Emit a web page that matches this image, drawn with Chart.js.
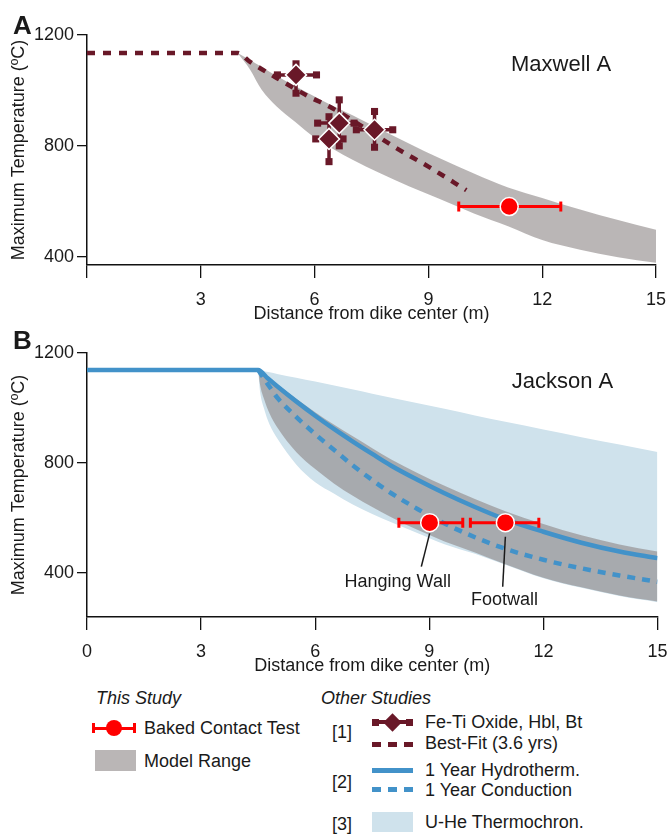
<!DOCTYPE html>
<html>
<head>
<meta charset="utf-8">
<script src="https://cdn.jsdelivr.net/npm/chart.js@4.4.0/dist/chart.umd.min.js"></script>
<style>
  body { margin: 0; background: #fff; font-family: "Liberation Sans", Arial, Helvetica, sans-serif; color: #1a1a1a; }
  #page { position: relative; width: 668px; height: 835px; overflow: hidden; }
  .abs { position: absolute; }
  .panel { position: absolute; font-size: 26px; font-weight: bold; line-height: 26px; }
  .lg { position: absolute; font-size: 18px; line-height: 20px; white-space: nowrap; }
  .it { font-style: italic; }
</style>
</head>
<body>
<div id="page">
  <canvas id="chartA" class="abs" style="left:0;top:0" width="668" height="325"></canvas>
  <canvas id="chartB" class="abs" style="left:0;top:330px" width="668" height="347"></canvas>
  <div class="panel" style="left:13px;top:12px">A</div>
  <div class="panel" style="left:13px;top:327px">B</div>

  <!-- legend -->
  <div class="lg it" style="left:96px;top:688px">This Study</div>
  <div class="abs" style="left:93px;top:726.5px;width:42px;height:3px;background:#ff0000"></div>
  <div class="abs" style="left:92px;top:723px;width:3px;height:10px;background:#ff0000"></div>
  <div class="abs" style="left:133px;top:723px;width:3px;height:10px;background:#ff0000"></div>
  <div class="abs" style="left:106px;top:720px;width:16px;height:16px;border-radius:50%;background:#ff0000"></div>
  <div class="lg" style="left:144px;top:718px">Baked Contact Test</div>
  <div class="abs" style="left:95px;top:750px;width:41px;height:21px;background:#bab6b6"></div>
  <div class="lg" style="left:144px;top:751px">Model Range</div>

  <div class="lg it" style="left:321px;top:688px">Other Studies</div>
  <div class="lg" style="left:332px;top:722px">[1]</div>
  <div class="lg" style="left:332px;top:772px">[2]</div>
  <div class="lg" style="left:332px;top:814px">[3]</div>

  <div class="abs" style="left:372px;top:720px;width:41px;height:4px;background:#691828"></div>
  <div class="abs" style="left:372px;top:718.5px;width:7px;height:7px;background:#691828"></div>
  <div class="abs" style="left:406px;top:718.5px;width:7px;height:7px;background:#691828"></div>
  <div class="abs" style="left:386px;top:715.5px;width:13px;height:13px;background:#691828;transform:rotate(45deg)"></div>
  <div class="lg" style="left:425px;top:712px">Fe-Ti Oxide, Hbl, Bt</div>
  <div class="abs" style="left:372px;top:742px;width:41px;height:4.5px;background:repeating-linear-gradient(90deg,#691828 0 9px,transparent 9px 16px)"></div>
  <div class="lg" style="left:425px;top:733px">Best-Fit (3.6 yrs)</div>

  <div class="abs" style="left:372px;top:767.5px;width:41px;height:5px;background:#4292c9"></div>
  <div class="lg" style="left:425px;top:760px">1 Year Hydrotherm.</div>
  <div class="abs" style="left:372px;top:787px;width:41px;height:4.5px;background:repeating-linear-gradient(90deg,#4292c9 0 9px,transparent 9px 16px)"></div>
  <div class="lg" style="left:425px;top:780px">1 Year Conduction</div>

  <div class="abs" style="left:372px;top:812px;width:41px;height:20px;background:#cfe2ec"></div>
  <div class="lg" style="left:425px;top:812px">U-He Thermochron.</div>
</div>

<script>
// ---- axes ----
const xTicks = [0, 3, 6, 9, 12, 15];
const yTicks = [400, 800, 1200];

// ---- A: Maxwell A ----
const maxBandX = [3.97, 4.3, 4.6, 5.0, 5.5, 6.0, 6.5, 7.0, 7.7, 8.5, 9.3, 10.2, 11.1, 12.0, 13.0, 14.0, 15.0];
const maxBandHigh = [1135, 1110, 1085, 1052, 1015, 978, 943, 910, 862, 808, 755, 700, 650, 612, 570, 532, 497];
const maxBandLow = [1135, 1075, 1003, 942, 885, 830, 788, 750, 703, 653, 608, 556, 510, 460, 425, 398, 378];
const bestFitX = [0, 3.97, 4.3, 5.0, 5.86, 6.4, 7.2, 8.14, 9.0, 10.0];
const bestFitT = [1135, 1135, 1103, 1045, 977, 941, 875, 793, 725, 640];
const oxideX = [5.51, 6.65, 6.38, 7.58];
const oxideT = [1056, 882, 825, 858];
const oxideXMin = [5.02, 6.08, 6.03, 7.10];
const oxideXMax = [6.05, 7.04, 6.75, 8.06];
const oxideTMin = [990, 800, 743, 795];
const oxideTMax = [1096, 966, 905, 924];
const maxBakedX = [11.13];
const maxBakedT = [581];
const maxBakedXMin = [9.80];
const maxBakedXMax = [12.49];

// ---- B: Jackson A ----
const jacBandX = [4.5, 4.55, 4.65, 4.8, 5.0, 5.5, 6.0, 6.5, 7.0, 7.5, 8.0, 8.7, 9.4, 10.2, 11.0, 12.0, 13.0, 14.0, 15.0];
const modelHigh = [1138, 1133, 1122, 1106, 1086, 1034, 985, 939, 896, 854, 813, 763, 717, 669, 625, 578, 537, 504, 478];
const modelLow = [1138, 1085, 1035, 980, 930, 840, 778, 725, 680, 640, 603, 556, 515, 475, 432, 383, 348, 318, 296];
const uheHigh = [1138, 1137, 1134, 1130, 1124, 1110, 1096, 1082, 1067, 1052, 1037, 1017, 997, 973, 950, 922, 894, 867, 840];
const uheLow = [1138, 1060, 1000, 940, 890, 795, 730, 688, 648, 615, 585, 545, 505, 470, 430, 381, 346, 316, 294];
const conductT = [1138, 1128, 1108, 1077, 1038, 968, 905, 847, 790, 738, 690, 632, 580, 530, 488, 448, 417, 391, 368];
const hydroX = [0, 4.5, 4.75, 5.0, 5.5, 6.0, 6.5, 7.0, 7.5, 8.0, 8.7, 9.4, 10.2, 11.0, 12.0, 13.0, 14.0, 15.0];
const hydroT = [1138, 1138, 1108, 1079, 1024, 972, 923, 877, 833, 790, 738, 690, 640, 595, 550, 510, 478, 454];
const jacBakedLabels = ['Hanging Wall', 'Footwall'];
const jacBakedX = [9.01, 11.0];
const jacBakedT = [583, 583];
const jacBakedXMin = [8.20, 10.08];
const jacBakedXMax = [9.88, 11.88];

// ---- colours ----
const MAROON = '#691828';
const BLUE = '#4292c9';
const RED = '#ff0000';
const GRAY = 'rgba(140,133,133,0.6)';
const LIGHTBLUE = '#cfe2ec';

const pts = (xs, ys) => xs.map((x, i) => ({ x: x, y: ys[i] }));

function hBars(x0, x1, ys) {
  const out = [];
  ys.forEach((y, i) => { out.push({ x: x0[i], y: y }, { x: x1[i], y: y }, { x: x1[i], y: null }); });
  return out;
}
function vBars(xs, y0, y1) {
  const out = [];
  xs.forEach((x, i) => { out.push({ x: x, y: y0[i] }, { x: x, y: y1[i] }, { x: x, y: null }); });
  return out;
}

function curve(data, color, width, dash) {
  return { data: data, borderColor: color, borderWidth: width, borderDash: dash || [],
    pointRadius: 0, cubicInterpolationMode: 'monotone', fill: false };
}
function band(data, color, target) {
  return { data: data, borderWidth: 0, borderColor: 'rgba(0,0,0,0)', backgroundColor: color,
    pointRadius: 0, cubicInterpolationMode: 'monotone', fill: target === undefined ? false : { target: target } };
}
function errBars(data, color, width, capStyle, capRadius, rot) {
  return { data: data, borderColor: color, borderWidth: width, spanGaps: false, tension: 0,
    pointStyle: capStyle, pointRadius: capRadius, pointRotation: rot || 0,
    pointBackgroundColor: color, pointBorderColor: color, pointBorderWidth: capStyle === 'line' ? 3 : 0 };
}
function markers(data, color, style, radius) {
  return { data: data, showLine: false, pointStyle: style, pointRadius: radius,
    pointBackgroundColor: color, pointBorderColor: '#fff', pointBorderWidth: 1.5 };
}

// titles and annotations drawn in data coordinates
const panelText = {
  id: 'panelText',
  afterDatasetsDraw(chart, args, opts) {
    const { ctx } = chart;
    const sx = chart.scales.x, sy = chart.scales.y;
    ctx.save();
    ctx.fillStyle = '#1a1a1a';
    ctx.textAlign = 'center';
    ctx.textBaseline = 'middle';
    ctx.font = '22px "Liberation Sans", Arial, sans-serif';
    ctx.fillText(opts.title, sx.getPixelForValue(12.5), sy.getPixelForValue(1093));
    ctx.font = '18px "Liberation Sans", Arial, sans-serif';
    ctx.strokeStyle = '#1a1a1a';
    ctx.lineWidth = 1.5;
    (opts.notes || []).forEach(n => {
      ctx.beginPath();
      ctx.moveTo(sx.getPixelForValue(n.line[0]), sy.getPixelForValue(n.line[1]));
      ctx.lineTo(sx.getPixelForValue(n.line[2]), sy.getPixelForValue(n.line[3]));
      ctx.stroke();
      ctx.fillText(n.text, sx.getPixelForValue(n.at[0]), sy.getPixelForValue(n.at[1]));
    });
    ctx.restore();
  }
};

function scalesFor(yMin, showZero) {
  const axisLine = { display: true, color: '#111', width: 1.5 };
  return {
    x: {
      type: 'linear', min: 0, max: 15,
      afterBuildTicks: s => { s.ticks = xTicks.map(v => ({ value: v })); },
      afterFit: s => { s.height = 60; s.paddingRight = 10; s.paddingLeft = 0; },
      grid: { drawOnChartArea: false, drawTicks: true, tickLength: 13, color: '#111', lineWidth: 1.3 },
      border: axisLine,
      ticks: { padding: 11, maxRotation: 0, autoSkip: false,
        callback: v => (v === 0 && !showZero) ? '' : String(v) },
      title: { display: true, text: 'Distance from dike center (m)', padding: { top: 0, bottom: 0 } }
    },
    y: {
      type: 'linear', min: yMin, max: 1200,
      afterBuildTicks: s => { s.ticks = yTicks.map(v => ({ value: v })); },
      afterFit: s => { s.width = 87; },
      grid: { drawOnChartArea: false, drawTicks: true, tickLength: 10, color: '#111', lineWidth: 1.3 },
      border: axisLine,
      ticks: { padding: 3, callback: v => String(v) },
      title: { display: true, text: 'Maximum Temperature (ºC)', padding: { top: 8, bottom: 0 } }
    }
  };
}

Chart.defaults.font.family = '"Liberation Sans", Arial, Helvetica, sans-serif';
Chart.defaults.font.size = 18;
Chart.defaults.color = '#1a1a1a';

new Chart(document.getElementById('chartA'), {
  type: 'line',
  data: {
    datasets: [
      markers(pts(maxBakedX, maxBakedT), RED, 'circle', 9),
      errBars(hBars(maxBakedXMin, maxBakedXMax, maxBakedT), RED, 3, 'line', 5, 90),
      markers(pts(oxideX, oxideT), MAROON, 'rectRot', 10.5),
      errBars(hBars(oxideXMin, oxideXMax, oxideT), MAROON, 3.5, 'rect', 5),
      errBars(vBars(oxideX, oxideTMin, oxideTMax), MAROON, 3.5, 'rect', 5),
      curve(pts(bestFitX, bestFitT), MAROON, 4.5, [8, 8]),
      band(pts(maxBandX, maxBandHigh), GRAY, 7),
      band(pts(maxBandX, maxBandLow), GRAY)
    ]
  },
  plugins: [panelText],
  options: {
    responsive: false,
    animation: false,
    events: [],
    layout: { padding: { top: 35, right: 0, left: 0, bottom: 0 } },
    plugins: {
      legend: { display: false },
      tooltip: { enabled: false },
      panelText: { title: 'Maxwell A' }
    },
    scales: scalesFor(370, false)
  }
});

new Chart(document.getElementById('chartB'), {
  type: 'line',
  data: {
    datasets: [
      markers(pts(jacBakedX, jacBakedT), RED, 'circle', 9),
      errBars(hBars(jacBakedXMin, jacBakedXMax, jacBakedT), RED, 3, 'line', 5, 90),
      curve(pts(hydroX, hydroT), BLUE, 4.5),
      curve(pts(jacBandX, conductT), BLUE, 4.5, [8, 7]),
      band(pts(jacBandX, modelHigh), GRAY, 5),
      band(pts(jacBandX, modelLow), GRAY),
      band(pts(jacBandX, uheHigh), LIGHTBLUE, 7),
      band(pts(jacBandX, uheLow), LIGHTBLUE)
    ]
  },
  plugins: [panelText],
  options: {
    responsive: false,
    animation: false,
    events: [],
    layout: { padding: { top: 23, right: 0, left: 0, bottom: 0 } },
    plugins: {
      legend: { display: false },
      tooltip: { enabled: false },
      panelText: {
        title: 'Jackson A',
        notes: [
          { text: jacBakedLabels[0], at: [8.17, 367], line: [9.01, 544, 8.79, 423] },
          { text: jacBakedLabels[1], at: [10.98, 302], line: [11.0, 532, 10.93, 350] }
        ]
      }
    },
    scales: scalesFor(240, true)
  }
});
</script>
</body>
</html>
